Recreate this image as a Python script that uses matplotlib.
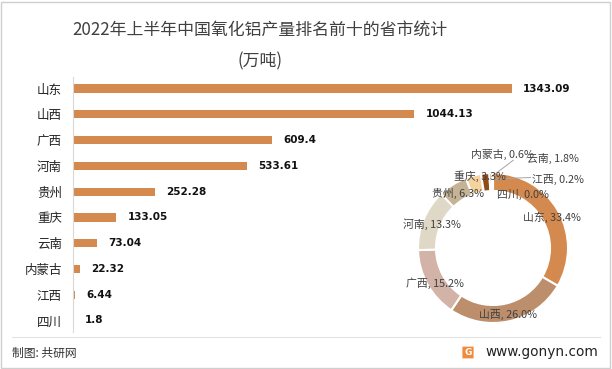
import numpy as np
import matplotlib.pyplot as plt
from matplotlib.patches import Rectangle, FancyBboxPatch

plt.rcParams['font.family'] = ['Noto Sans CJK SC', 'DejaVu Sans']

# data
provinces = ['山东', '山西', '广西', '河南', '贵州', '重庆', '云南', '内蒙古', '江西', '四川']
output = [1343.09, 1044.13, 609.4, 533.61, 252.28, 133.05, 73.04, 22.32, 6.44, 1.8]
value_labels = ['1343.09', '1044.13', '609.4', '533.61', '252.28', '133.05', '73.04', '22.32', '6.44', '1.8']
pie_colors = ['#D48A4E', '#BD8E6C', '#D3B3A7', '#E0D8C6', '#C6B295', '#F5D39F',
              '#8E4A17', '#B27B4F', '#9A7B5E', '#C9A27C']

W, H = 612, 369
fig = plt.figure(figsize=(W / 100, H / 100), dpi=100)
fig.patch.set_facecolor('white')

# outer border
fig.add_artist(Rectangle((1 / W, 1 / H), (W - 3) / W, (H - 3) / H, transform=fig.transFigure,
                         fill=False, edgecolor='#CFCFCF', linewidth=1))

# title
fig.text(260 / W, 1 - 30 / H, '2022年上半年中国氧化铝产量排名前十的省市统计',
         ha='center', va='center', fontsize=12.2, color='#404040')
fig.text(260 / W, 1 - 61 / H, '(万吨)', ha='center', va='center', fontsize=12.2, color='#404040')

# bar chart
ax = fig.add_axes([73 / W, 37 / H, 530 / W, 255 / H])
y = np.arange(len(provinces))
ax.barh(y, output, height=0.32, color='#D48A4E')
ax.set_xlim(0, 530 / (439 / 1343.09))
ax.set_ylim(9.45, -0.45)
ax.set_yticks(y)
ax.set_yticklabels(provinces, fontsize=9, color='#222222')
ax.tick_params(axis='y', length=0, pad=8)
ax.set_xticks([])
for s in ['top', 'right', 'bottom']:
    ax.spines[s].set_visible(False)
ax.spines['left'].set_color('#D9D9D9')
ax.patch.set_alpha(0)
for yi, v, lab in zip(y, output, value_labels):
    ax.annotate(lab, (v, yi), xytext=(8, 0), textcoords='offset points',
                ha='left', va='center', fontsize=7.5, fontweight='bold',
                family=['DejaVu Sans'], color='#111111')

# donut
cx, cy, r = 493, 248, 75
pax = fig.add_axes([(cx - r) / W, 1 - (cy + r) / H, 2 * r / W, 2 * r / H])
pax.pie(output, colors=pie_colors, startangle=90, counterclock=False,
        wedgeprops=dict(width=0.24, edgecolor='white', linewidth=1.5))
pax.set_xlim(-1, 1)
pax.set_ylim(-1, 1)
pax.set_aspect('equal')
pax.axis('off')

total = sum(output)
pct = [v / total * 100 for v in output]
label_pos = [(0.79, 0.41), (0.2, -0.89), (-0.77, -0.47), (-0.81, 0.32), (-0.47, 0.73),
             (-0.17, 0.96), (0.8, 1.2), (0.13, 1.25), (0.86, 0.92), (0.4, 0.71)]
pax.plot([-0.02, 0.27], [0.95, 1.17], color='#A6A6A6', lw=0.7, clip_on=False)
pax.plot([0.02, 0.5], [0.92, 0.94], color='#A6A6A6', lw=0.7, clip_on=False)
for name, p, (lx, ly) in zip(provinces, pct, label_pos):
    pax.text(lx, ly, '%s, %.1f%%' % (name, p), ha='center', va='center',
             fontsize=7.8, color='#404040', clip_on=False)

# footer
fig.add_artist(plt.Line2D([12 / W, 600 / W], [1 - 337 / H, 1 - 337 / H],
                          transform=fig.transFigure, color='#E3E3E3', lw=0.8))
fig.text(12 / W, 1 - 353 / H, '制图: 共研网', ha='left', va='center', fontsize=8.5, color='#333333')
fig.text(598 / W, 1 - 352 / H, 'www.gonyn.com', ha='right', va='center', fontsize=9.8,
         color='#222222', family=['DejaVu Sans'])
fig.add_artist(FancyBboxPatch((463 / W, 1 - 358 / H), 10 / W, 11 / H,
                              boxstyle='round,pad=0.001', transform=fig.transFigure,
                              facecolor='#F08A3C', edgecolor='none'))
fig.text(468 / W, 1 - 352.5 / H, 'G', ha='center', va='center', fontsize=6.5,
         fontweight='bold', color='white', family=['DejaVu Sans'])

fig.savefig('out.png', dpi=100, facecolor='white')
